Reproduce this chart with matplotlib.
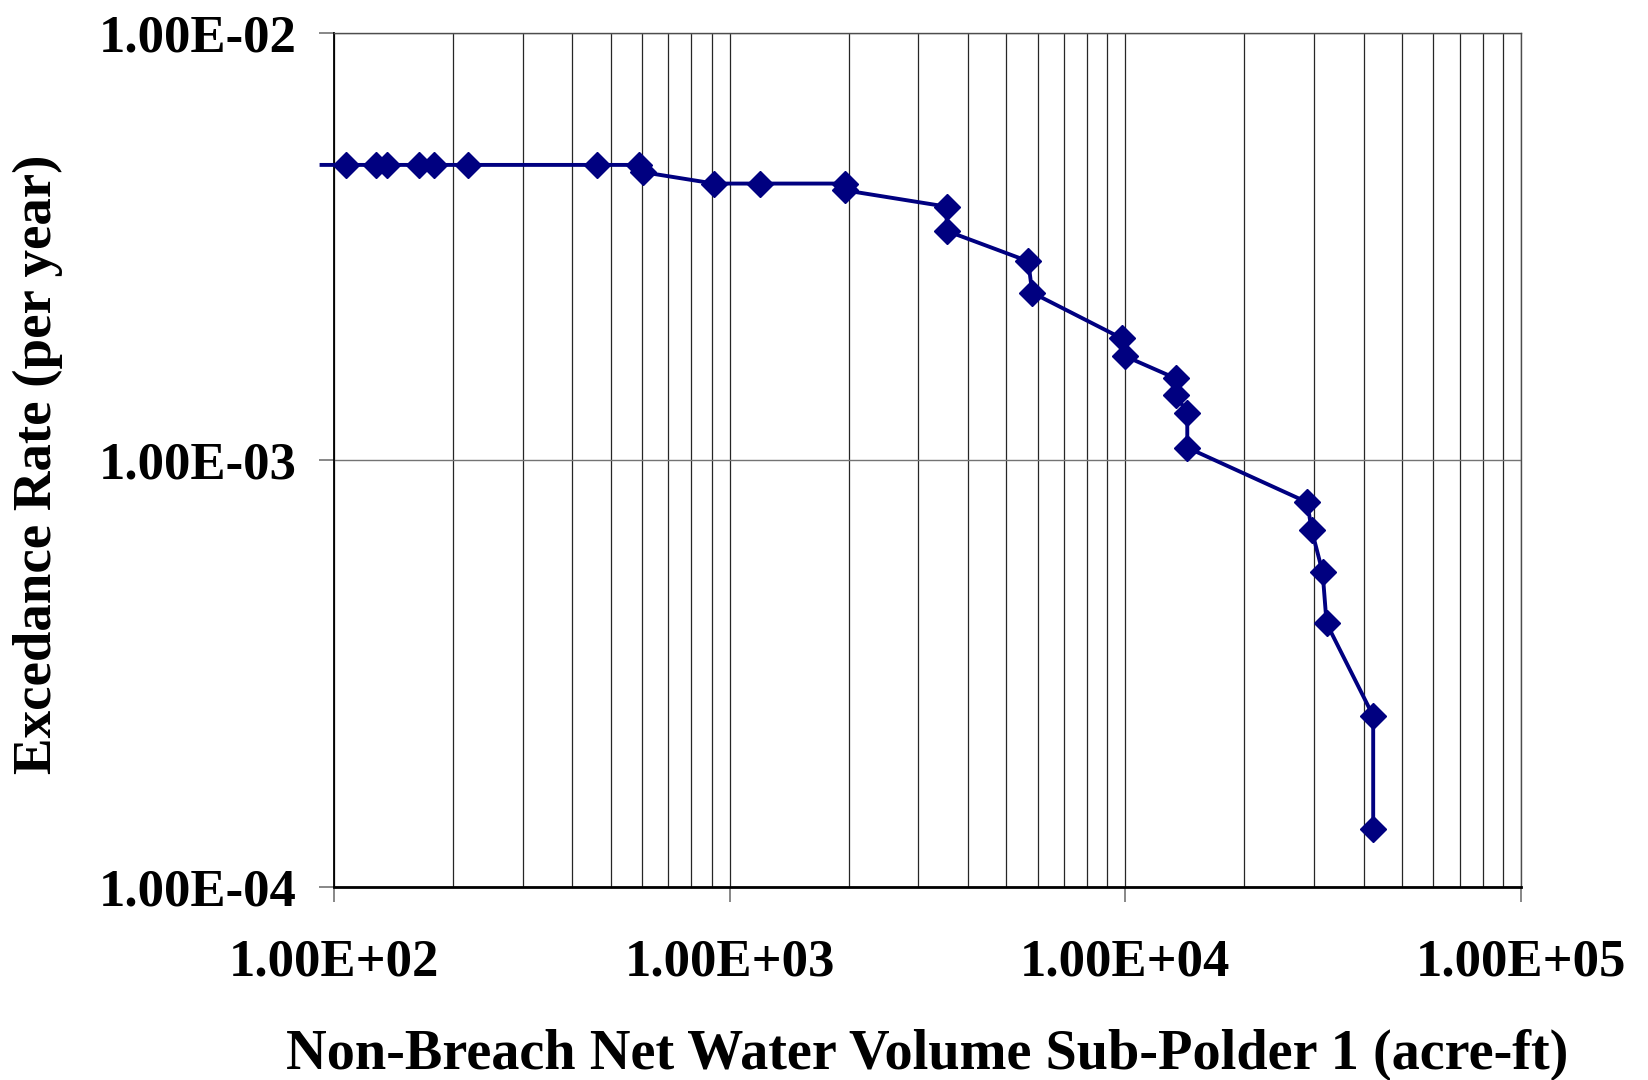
import matplotlib
matplotlib.use("Agg")
import matplotlib.pyplot as plt
from matplotlib.ticker import FuncFormatter, LogLocator, NullFormatter

# Non-breach net water volume (acre-ft) vs exceedance rate (per year)
volume = [93, 107, 128, 136, 164, 179, 218, 462, 590, 605,
          913, 1195, 1960, 1960, 3535, 3535, 5683, 5817, 9788, 9978,
          13400, 13400, 14340, 14340, 28820, 29570, 31520, 32260, 42310, 42310]
rate = [4.91e-3, 4.91e-3, 4.91e-3, 4.91e-3, 4.91e-3, 4.91e-3, 4.91e-3, 4.91e-3, 4.91e-3, 4.72e-3,
        4.44e-3, 4.44e-3, 4.44e-3, 4.28e-3, 3.92e-3, 3.44e-3, 2.92e-3, 2.465e-3, 1.928e-3, 1.751e-3,
        1.553e-3, 1.42e-3, 1.291e-3, 1.069e-3, 7.96e-4, 6.86e-4, 5.46e-4, 4.145e-4, 2.515e-4, 1.367e-4]

x_label = "Non-Breach Net Water Volume Sub-Polder 1 (acre-ft)"
y_label = "Excedance Rate (per year)"

plt.rcParams["font.family"] = ["Liberation Serif", "DejaVu Serif"]
plt.rcParams["font.weight"] = "bold"

fig = plt.figure(figsize=(16.49, 10.80), dpi=100)
ax = fig.add_axes([334 / 1649, 1 - 887 / 1080, 1187 / 1649, 854 / 1080])

ax.set_xscale("log")
ax.set_yscale("log")
ax.set_xlim(1e2, 1e5)
ax.set_ylim(1e-4, 1e-2)

# first point sits just left of the axis, only its line segment shows
ax.plot(volume, rate, color="#000080", lw=2.8, marker="D", markersize=13.5,
        markevery=list(range(1, len(volume))), clip_on=False, zorder=3)

ax.xaxis.set_major_locator(LogLocator(base=10))
ax.xaxis.set_minor_locator(LogLocator(base=10, subs=range(2, 10)))
ax.xaxis.set_minor_formatter(NullFormatter())
ax.yaxis.set_minor_locator(LogLocator(base=10, subs=[]))
fmt = FuncFormatter(lambda v, p: f"{v:.2E}")
ax.xaxis.set_major_formatter(fmt)
ax.yaxis.set_major_formatter(fmt)

ax.grid(True, which="major", axis="y", color="0.45", lw=1.0)
ax.grid(True, which="both", axis="x", color="0.15", lw=0.9)

ax.tick_params(axis="both", which="major", direction="out", length=11, width=1.2,
               color="0.45", labelsize=38, pad=16)
ax.tick_params(axis="x", which="major", pad=26)
ax.tick_params(axis="x", which="minor", length=0)

for side in ["top", "right"]:
    ax.spines[side].set_color("0.3")
    ax.spines[side].set_linewidth(1.0)
ax.spines["left"].set_color("black")
ax.spines["left"].set_linewidth(1.3)
ax.spines["bottom"].set_color("black")
ax.spines["bottom"].set_linewidth(2.0)

ax.set_xlabel(x_label, fontsize=40.5, fontweight="bold")
ax.xaxis.set_label_coords(0.5, -0.166)
ax.set_ylabel(y_label, fontsize=39.5, fontweight="bold")
ax.yaxis.set_label_coords(-0.228, 0.495)

fig.savefig("out.png", dpi=100)
